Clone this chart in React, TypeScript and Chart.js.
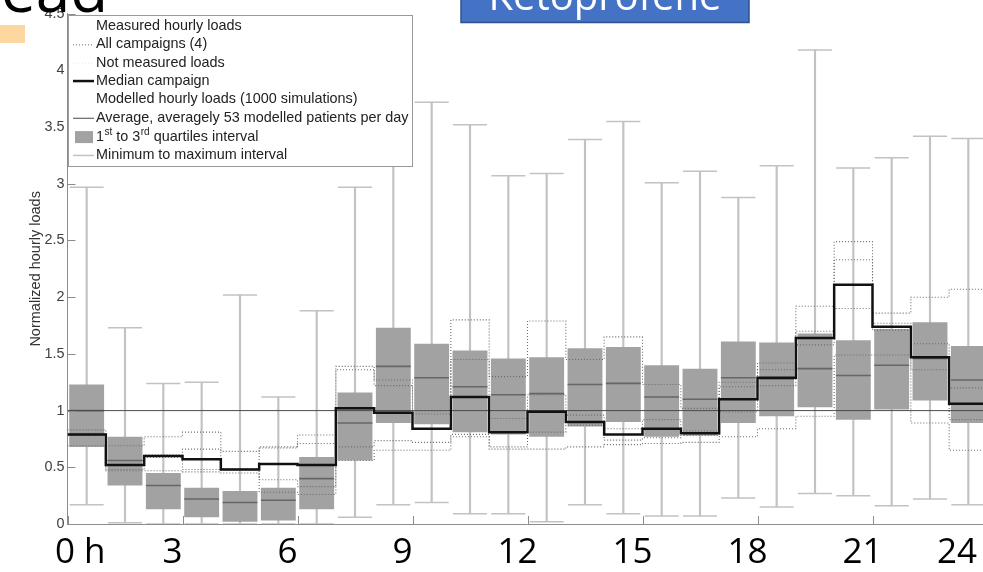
import React, { useEffect, useRef } from 'react';
import { Chart, registerables } from 'chart.js';

Chart.register(...registerables);

// ---------- data ----------
const hours = [0, 1, 2, 3, 4, 5, 6, 7, 8, 9, 10, 11, 12, 13, 14, 15, 16, 17, 18, 19, 20, 21, 22, 23];

// Modelled hourly loads (1000 simulations)
const minLoad = [0.17, 0.01, 0.0, 0.0, 0.0, 0.0, 0.0, 0.06, 0.17, 0.19, 0.09, 0.09, 0.02, 0.17, 0.09, 0.07, 0.07, 0.23, 0.15, 0.27, 0.25, 0.16, 0.22, 0.17];
const q1Load = [0.68, 0.34, 0.13, 0.06, 0.02, 0.03, 0.13, 0.56, 0.89, 0.88, 0.81, 0.79, 0.77, 0.86, 0.9, 0.77, 0.78, 0.89, 0.95, 1.03, 0.92, 1.01, 1.09, 0.89];
const medianLoad = [1.0, 0.56, 0.34, 0.22, 0.19, 0.21, 0.4, 0.89, 1.39, 1.29, 1.21, 1.14, 1.15, 1.23, 1.24, 1.12, 1.1, 1.29, 1.28, 1.37, 1.31, 1.4, 1.46, 1.27];
const q3Load = [1.23, 0.77, 0.45, 0.32, 0.29, 0.32, 0.59, 1.16, 1.73, 1.59, 1.53, 1.46, 1.47, 1.55, 1.56, 1.4, 1.37, 1.61, 1.6, 1.68, 1.62, 1.72, 1.78, 1.57];
const maxLoad = [2.97, 1.73, 1.24, 1.25, 2.02, 1.12, 1.88, 2.97, 3.9, 3.72, 3.52, 3.07, 3.09, 3.39, 3.55, 3.01, 3.11, 2.88, 3.16, 4.18, 3.14, 3.23, 3.42, 3.4];
const averageLoad = 1;

// Measured hourly loads
const medianCampaign = [0.79, 0.52, 0.6, 0.57, 0.48, 0.53, 0.52, 1.02, 0.98, 0.84, 1.12, 0.81, 0.99, 0.9, 0.79, 0.84, 0.8, 1.1, 1.29, 1.64, 2.11, 1.74, 1.47, 1.06];
const campaignA = [0.83, 0.69, 0.77, 0.81, 0.64, 0.68, 0.785, 1.39, 1.27, 1.0, 1.8, 1.3, 1.79, 1.45, 1.65, 1.23, 1.02, 1.25, 1.42, 1.92, 2.49, 1.86, 2.0, 2.07];
const campaignB = [0.8, 0.56, 0.61, 0.66, 0.49, 0.67, 0.71, 1.36, 1.22, 0.97, 1.45, 0.93, 1.14, 0.96, 0.84, 0.92, 0.82, 1.21, 1.36, 1.7, 2.33, 1.77, 1.59, 1.2];
const campaignC = [0.78, 0.48, 0.59, 0.48, 0.475, 0.39, 0.33, 0.68, 0.735, 0.72, 0.79, 0.68, 0.81, 0.87, 0.74, 0.76, 0.78, 0.99, 1.22, 1.58, 1.9, 1.71, 1.36, 0.92];
const campaignD = [0.69, 0.47, 0.47, 0.46, 0.45, 0.28, 0.26, 0.56, 0.65, 0.65, 0.77, 0.66, 0.66, 0.68, 0.7, 0.71, 0.72, 0.77, 0.84, 0.95, 1.49, 1.49, 0.89, 0.65];

const yTickValues = [0, 0.5, 1, 1.5, 2, 2.5, 3, 3.5, 4, 4.5];
const yTickLabels = ['0', '0.5', '1', '1.5', '2', '2.5', '3', '3.5', '4', '4.5'];
const hourTicks = [0, 3, 6, 9, 12, 15, 18, 21, 24];
const hourLabels = ['0 h', '3', '6', '9', '12', '15', '18', '21', '24'];
const yAxisTitle = 'Normalized hourly loads';
const legendLabels = [
  'Measured hourly loads',
  'All campaigns (4)',
  'Not measured loads',
  'Median campaign',
  'Modelled hourly loads (1000 simulations)',
  'Average, averagely 53 modelled patients per day',
  '1^st to 3^rd quartiles interval',
  'Minimum to maximum interval',
];
const slideTitleFragment = 'ead';
const drugLabel = 'Ketoprofene';

// ---------- styles ----------
const BOX_FILL = '#a2a2a2';
const BOX_MEDIAN = '#666666';
const WHISKER = '#c2c2c2';
const AVERAGE = '#4a4a4a';
const CAMPAIGN = '#6a6a6a';
const MEDIAN_CAMPAIGN = '#111111';
const AXIS = '#8c8c8c';
const FONT = '"Liberation Sans", Arial, sans-serif';
const SLIDE_FONT = '"Open Sans", sans-serif';

const nHours = hours.length;
const center = (h: number) => h + 0.5;
const stepData = (vals: number[]) => [
  ...hours.map((h) => ({ x: h, y: vals[h] })),
  { x: nHours, y: vals[nHours - 1] },
];

function drawRich(ctx: CanvasRenderingContext2D, text: string, x: number, y: number) {
  const parts = text.split(/(\^[a-z]+)/);
  let cx = x;
  for (const p of parts) {
    if (!p) continue;
    if (p.startsWith('^')) {
      const s = p.slice(1);
      ctx.font = `10px ${FONT}`;
      ctx.fillText(s, cx + 0.5, y - 5);
      cx += ctx.measureText(s).width + 0.5;
    } else {
      ctx.font = `14.4px ${FONT}`;
      ctx.fillText(p, cx, y);
      cx += ctx.measureText(p).width;
    }
  }
}

const ticksAndLegend = {
  id: 'ticksAndLegend',
  afterDatasetsDraw(chart: any) {
    const { ctx, chartArea, scales } = chart;
    const x = scales.x;
    const y = scales.y;
    ctx.save();
    // inward tick marks
    ctx.strokeStyle = AXIS;
    ctx.lineWidth = 1;
    ctx.beginPath();
    yTickValues.forEach((v) => {
      const py = Math.round(y.getPixelForValue(v)) + 0.5;
      ctx.moveTo(chartArea.left, py);
      ctx.lineTo(chartArea.left + 8, py);
    });
    hourTicks.forEach((h) => {
      const px = Math.round(x.getPixelForValue(h)) + 0.5;
      ctx.moveTo(px, chartArea.bottom);
      ctx.lineTo(px, chartArea.bottom - 8);
    });
    ctx.stroke();

    // legend box
    const L = Math.round(chartArea.left) + 0.5;
    const T = 15.5;
    const R = 412.5;
    const B = 166.5;
    ctx.fillStyle = '#ffffff';
    ctx.fillRect(L, T, R - L, B - T);
    ctx.strokeStyle = '#9a9a9a';
    ctx.lineWidth = 1;
    ctx.strokeRect(L, T, R - L, B - T);

    const sx0 = 73;
    const sx1 = 94;
    const tx = 96;
    ctx.textBaseline = 'middle';
    ctx.textAlign = 'left';
    legendLabels.forEach((label, i) => {
      const ry = 26 + i * 18.35 + (i >= 6 ? 1 : 0);
      ctx.save();
      ctx.setLineDash([]);
      if (i === 1 || i === 2) {
        ctx.strokeStyle = i === 1 ? CAMPAIGN : '#e8e8e8';
        ctx.lineWidth = 1;
        ctx.setLineDash([1, 2]);
        ctx.beginPath();
        ctx.moveTo(sx0, ry + 0.5);
        ctx.lineTo(sx1, ry + 0.5);
        ctx.stroke();
      } else if (i === 3) {
        ctx.strokeStyle = MEDIAN_CAMPAIGN;
        ctx.lineWidth = 2.5;
        ctx.beginPath();
        ctx.moveTo(sx0, ry);
        ctx.lineTo(sx1, ry);
        ctx.stroke();
      } else if (i === 5) {
        ctx.strokeStyle = AVERAGE;
        ctx.lineWidth = 1;
        ctx.beginPath();
        ctx.moveTo(sx0, ry + 0.5);
        ctx.lineTo(sx1, ry + 0.5);
        ctx.stroke();
      } else if (i === 6) {
        ctx.fillStyle = BOX_FILL;
        ctx.fillRect(75, ry - 6, 18, 12);
      } else if (i === 7) {
        ctx.strokeStyle = WHISKER;
        ctx.lineWidth = 1.5;
        ctx.beginPath();
        ctx.moveTo(sx0, ry);
        ctx.lineTo(sx1, ry);
        ctx.stroke();
      }
      ctx.restore();
      ctx.fillStyle = '#222222';
      drawRich(ctx, label, tx, ry);
    });
    ctx.restore();
  },
};

const slideDecor = {
  id: 'slideDecor',
  afterDraw(chart: any) {
    const { ctx, scales } = chart;
    const x = scales.x;
    ctx.save();
    // hour labels of the slide
    ctx.fillStyle = '#000000';
    ctx.font = `35px ${SLIDE_FONT}`;
    ctx.textBaseline = 'alphabetic';
    hourLabels.forEach((lab, i) => {
      const px = x.getPixelForValue(hourTicks[i]);
      if (i === 0) {
        ctx.textAlign = 'left';
        ctx.fillText(lab, px - 12.5, 563);
      } else if (i === hourLabels.length - 1) {
        ctx.textAlign = 'right';
        ctx.fillText(lab, px - 10.5, 563);
      } else {
        ctx.textAlign = 'center';
        ctx.fillText(lab, px - 10, 563);
      }
    });

    // cut-off slide title
    ctx.textAlign = 'left';
    ctx.font = `62px ${SLIDE_FONT}`;
    ctx.fillText(slideTitleFragment, 1, 12);

    // orange accent bar
    ctx.fillStyle = '#fcd7a0';
    ctx.fillRect(0, 25, 25, 18);

    // drug label box
    ctx.fillStyle = '#4472c4';
    ctx.fillRect(461, -5, 288, 27.5);
    ctx.strokeStyle = '#2f528f';
    ctx.lineWidth = 1.5;
    ctx.strokeRect(461, -5, 288, 27.5);
    ctx.fillStyle = '#ffffff';
    ctx.textAlign = 'center';
    ctx.font = `40px ${SLIDE_FONT}`;
    ctx.fillText(drugLabel, 605, 9.5);
    ctx.restore();
  },
};

export default function App() {
  const ref = useRef<HTMLCanvasElement>(null);

  useEffect(() => {
    if (!ref.current) return;
    const chart = new Chart(ref.current, {
      type: 'bar',
      data: {
        datasets: [
          {
            type: 'line',
            label: 'Median campaign',
            data: stepData(medianCampaign),
            stepped: 'before',
            borderColor: MEDIAN_CAMPAIGN,
            borderWidth: 2.5,
            pointRadius: 0,
            fill: false,
            order: 0,
          } as any,
          ...[campaignA, campaignB, campaignC, campaignD].map((c, i) => ({
            type: 'line',
            label: `Campaign ${i + 1}`,
            data: stepData(c),
            stepped: 'before',
            borderColor: CAMPAIGN,
            borderWidth: 1.1,
            borderDash: [1, 2],
            pointRadius: 0,
            fill: false,
            order: 1,
          })) as any[],
          {
            type: 'line',
            label: 'Average',
            data: [
              { x: 0, y: averageLoad },
              { x: nHours, y: averageLoad },
            ],
            borderColor: AVERAGE,
            borderWidth: 1,
            pointRadius: 0,
            fill: false,
            order: 2,
          } as any,
          {
            type: 'scatter',
            label: 'Median of simulations',
            data: hours.map((h) => ({ x: center(h), y: medianLoad[h] })),
            pointStyle: 'line',
            pointRadius: 17.4,
            borderColor: BOX_MEDIAN,
            pointBorderColor: BOX_MEDIAN,
            pointBorderWidth: 1.6,
            order: 3,
          } as any,
          {
            type: 'bar',
            label: 'Quartiles',
            data: hours.map((h) => ({ x: center(h), y: [q1Load[h], q3Load[h]] })),
            backgroundColor: BOX_FILL,
            borderWidth: 0,
            grouped: false,
            categoryPercentage: 1,
            barPercentage: 0.91,
            order: 4,
          } as any,
          {
            type: 'scatter',
            label: 'Whisker caps',
            data: hours.flatMap((h) => [
              { x: center(h), y: minLoad[h] },
              { x: center(h), y: maxLoad[h] },
            ]),
            pointStyle: 'line',
            pointRadius: 17,
            borderColor: WHISKER,
            pointBorderColor: WHISKER,
            pointBorderWidth: 1.5,
            order: 5,
          } as any,
          {
            type: 'bar',
            label: 'Min to max',
            data: hours.map((h) => ({ x: center(h), y: [minLoad[h], maxLoad[h]] })),
            backgroundColor: WHISKER,
            borderWidth: 0,
            grouped: false,
            barThickness: 1.5,
            order: 6,
          } as any,
        ],
      },
      options: {
        responsive: false,
        animation: false,
        events: [],
        layout: { autoPadding: false, padding: { left: 0, top: 13.7, right: 2.5, bottom: 0 } },
        plugins: {
          legend: { display: false },
          tooltip: { enabled: false },
        },
        scales: {
          x: {
            type: 'linear',
            min: 0,
            max: nHours,
            offset: false,
            afterBuildTicks: (scale: any) => {
              scale.ticks = hourTicks.map((v) => ({ value: v }));
            },
            afterFit: (scale: any) => {
              scale.height = 48;
            },
            ticks: { display: false },
            grid: { display: true, drawOnChartArea: false, drawTicks: false, offset: false },
            border: { display: true, color: AXIS, width: 1 },
          },
          y: {
            type: 'linear',
            min: 0,
            max: 4.5,
            beginAtZero: true,
            afterBuildTicks: (scale: any) => {
              scale.ticks = yTickValues.map((v) => ({ value: v }));
            },
            afterFit: (scale: any) => {
              scale.width = 67.5;
            },
            ticks: {
              padding: 3,
              color: '#404040',
              font: { family: FONT, size: 14.4 },
              autoSkip: false,
              callback: (v: any) => {
                const i = yTickValues.indexOf(Number(v));
                return i >= 0 ? yTickLabels[i] : '';
              },
            },
            title: {
              display: true,
              text: yAxisTitle,
              color: '#333333',
              font: { family: FONT, size: 14.5 },
              padding: { top: 27.5, bottom: 0 },
            },
            grid: { display: true, drawOnChartArea: false, drawTicks: false },
            border: { display: true, color: AXIS, width: 1 },
          },
        },
      } as any,
      plugins: [ticksAndLegend, slideDecor],
    });
    return () => chart.destroy();
  }, []);

  return (
    <div
      style={{
        position: 'absolute',
        left: 0,
        top: 0,
        width: 983,
        height: 572,
        overflow: 'hidden',
        background: '#ffffff',
      }}
    >
      <canvas ref={ref} width={990} height={572} style={{ display: 'block', width: 990, height: 572 }} />
    </div>
  );
}
